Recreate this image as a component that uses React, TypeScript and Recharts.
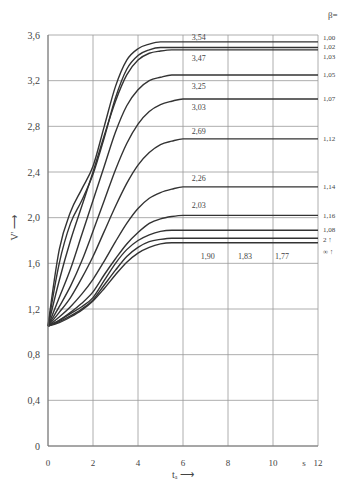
import React from "react";
import { LineChart, Line, XAxis, YAxis, CartesianGrid, ReferenceDot } from "recharts";

const tValues = [0, 0.5, 1, 1.5, 2, 2.5, 3, 3.5, 4, 4.5, 5, 5.5, 6, 12];

const curve1 = [1.05, 1.72, 2.05, 2.25, 2.45, 2.8, 3.15, 3.38, 3.48, 3.52, 3.54, 3.54, 3.54, 3.54];
const curve2 = [1.05, 1.6, 1.95, 2.15, 2.38, 2.7, 3.05, 3.3, 3.42, 3.47, 3.49, 3.49, 3.49, 3.49];
const curve3 = [1.05, 1.45, 1.8, 2.1, 2.4, 2.72, 3.02, 3.25, 3.38, 3.44, 3.46, 3.47, 3.47, 3.47];
const curve4 = [1.05, 1.3, 1.55, 1.85, 2.15, 2.45, 2.75, 2.98, 3.12, 3.2, 3.23, 3.25, 3.25, 3.25];
const curve5 = [1.05, 1.22, 1.4, 1.62, 1.88, 2.15, 2.42, 2.65, 2.82, 2.93, 2.99, 3.02, 3.04, 3.04];
const curve6 = [1.05, 1.17, 1.3, 1.47, 1.66, 1.88, 2.1, 2.3, 2.46, 2.57, 2.64, 2.67, 2.69, 2.69];
const curve7 = [1.05, 1.13, 1.22, 1.33, 1.46, 1.62, 1.79, 1.95, 2.08, 2.17, 2.22, 2.25, 2.27, 2.27];
const curve8 = [1.05, 1.1, 1.17, 1.25, 1.35, 1.5, 1.64, 1.77, 1.87, 1.95, 1.99, 2.01, 2.02, 2.02];
const curve9 = [1.05, 1.1, 1.16, 1.22, 1.3, 1.45, 1.6, 1.72, 1.8, 1.85, 1.88, 1.89, 1.89, 1.89];
const curve10 = [1.05, 1.09, 1.14, 1.2, 1.28, 1.41, 1.54, 1.66, 1.74, 1.79, 1.81, 1.82, 1.82, 1.82];
const curve11 = [1.05, 1.08, 1.13, 1.19, 1.27, 1.38, 1.5, 1.61, 1.69, 1.74, 1.77, 1.78, 1.78, 1.78];

const curves = [curve1, curve2, curve3, curve4, curve5, curve6, curve7, curve8, curve9, curve10, curve11];

const yTicks = [0, 0.4, 0.8, 1.2, 1.6, 2.0, 2.4, 2.8, 3.2, 3.6];
const xTicks = [0, 2, 4, 6, 8, 10, 12];

const betaLevels = [3.58, 3.495, 3.41, 3.25, 3.04, 2.69, 2.27, 2.02, 1.9, 1.81, 1.7];
const betaLabels = ["1,00", "1,02", "1,03", "1,05", "1,07", "1,12", "1,14", "1,16", "1,08", "2 ↑", "∞ ↑"];

const innerLabels = [
  { t: 6.7, v: 3.58, text: "3,54" },
  { t: 6.7, v: 3.4, text: "3,47" },
  { t: 6.7, v: 3.15, text: "3,25" },
  { t: 6.7, v: 2.97, text: "3,03" },
  { t: 6.7, v: 2.76, text: "2,69" },
  { t: 6.7, v: 2.35, text: "2,26" },
  { t: 6.7, v: 2.11, text: "2,03" },
  { t: 7.1, v: 1.66, text: "1,90" },
  { t: 8.75, v: 1.66, text: "1,83" },
  { t: 10.4, v: 1.66, text: "1,77" },
];

const data = tValues.map((t, i) => {
  const row: Record<string, number> = { t };
  curves.forEach((c, k) => {
    row["c" + (k + 1)] = c[i];
  });
  return row;
});

const FONT = "'Liberation Serif', serif";
const TXT = "#444";

const fmt = (v: number) => (v === 0 ? "0" : v.toFixed(1).replace(".", ","));

const XTick = (props: any) => {
  const { x, y, payload } = props;
  return (
    <g>
      <text x={x} y={y + 12} textAnchor="middle" fontSize={9} fontFamily={FONT} fill={TXT}>
        {payload.value}
      </text>
      {payload.value === 12 ? (
        <text x={x - 14} y={y + 12} textAnchor="middle" fontSize={9} fontFamily={FONT} fill={TXT}>
          s
        </text>
      ) : null}
    </g>
  );
};

export default function App() {
  return (
    <div style={{ position: "absolute", left: 0, top: 0, width: 351, height: 482, background: "#fff" }}>
      <LineChart width={351} height={482} data={data} margin={{ top: 35, right: 33, left: 0, bottom: 0 }}>
        <CartesianGrid stroke="#999" strokeWidth={0.8} horizontal vertical />
        <XAxis
          dataKey="t"
          type="number"
          domain={[0, 12]}
          ticks={xTicks}
          height={36}
          stroke="#777"
          tickLine={false}
          tick={<XTick />}
          label={{ value: "tₐ ⟶", position: "insideBottom", offset: 4, fontSize: 10, fontFamily: FONT, fill: TXT }}
        />
        <YAxis
          type="number"
          domain={[0, 3.6]}
          ticks={yTicks}
          width={48}
          stroke="#777"
          tickLine={false}
          tickFormatter={fmt}
          tick={{ fontSize: 10, fontFamily: FONT, fill: TXT }}
          label={{ value: "V' ⟶", angle: -90, position: "insideLeft", offset: 14, fontSize: 10, fontFamily: FONT, fill: TXT }}
        />
        {curves.map((_, k) => (
          <Line
            key={k}
            type="monotone"
            dataKey={"c" + (k + 1)}
            stroke="#333"
            strokeWidth={1.4}
            dot={false}
            isAnimationActive={false}
          />
        ))}
        {innerLabels.map((l, i) => (
          <ReferenceDot
            key={"in" + i}
            x={l.t}
            y={l.v}
            r={0}
            fill="none"
            stroke="none"
            label={{ value: l.text, position: "center", fontSize: 8, fontFamily: FONT, fill: TXT }}
          />
        ))}
        {betaLevels.map((p, i) => (
          <ReferenceDot
            key={"b" + i}
            x={12}
            y={p}
            r={0}
            fill="none"
            stroke="none"
            ifOverflow="visible"
            label={{ value: betaLabels[i], position: "right", offset: 5, fontSize: 7, fontFamily: FONT, fill: TXT }}
          />
        ))}
        <ReferenceDot
          x={12}
          y={3.6}
          r={0}
          fill="none"
          stroke="none"
          ifOverflow="visible"
          label={{ value: "β=", position: "right", offset: 10, dy: -20, fontSize: 9, fontFamily: FONT, fill: TXT }}
        />
      </LineChart>
    </div>
  );
}
